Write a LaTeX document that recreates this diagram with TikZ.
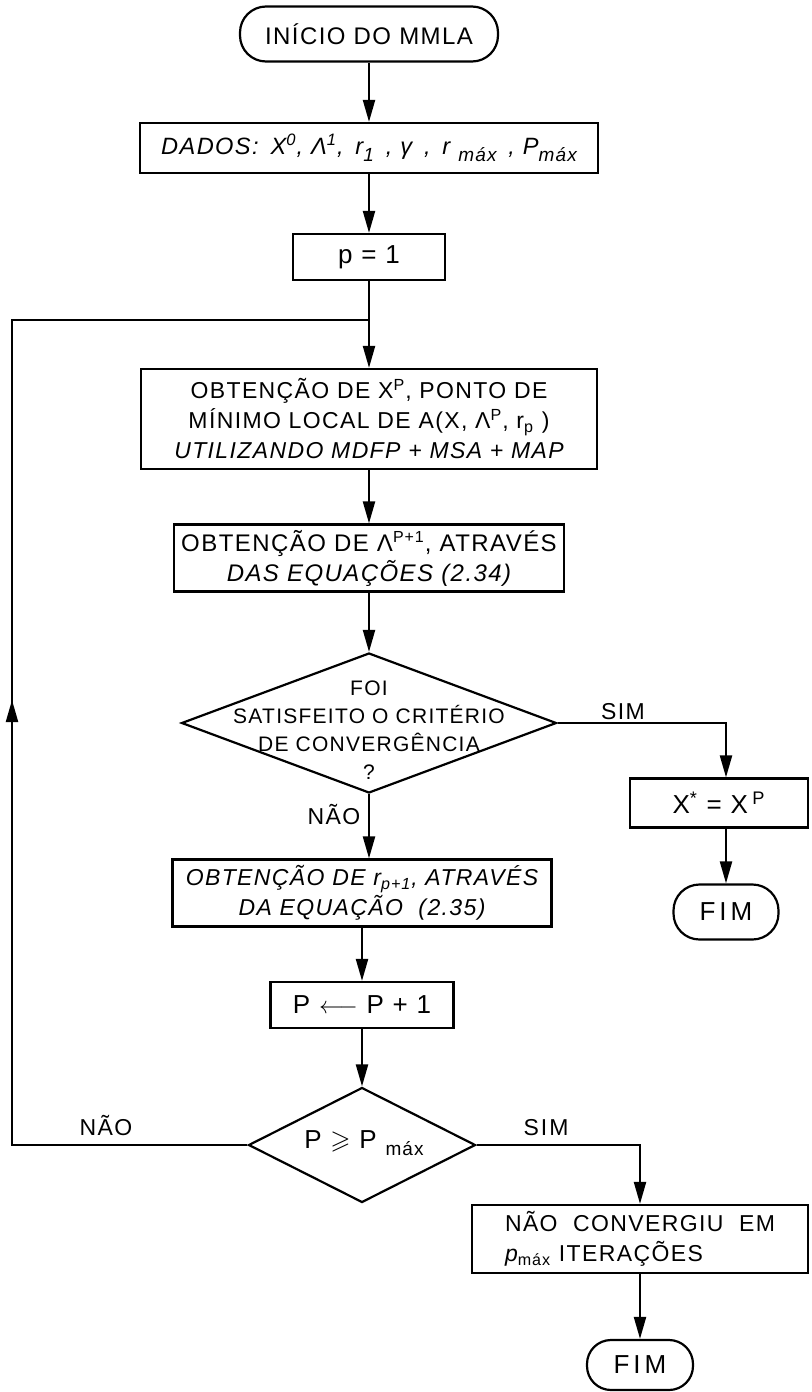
\documentclass[tikz,border=0pt]{standalone}
\usepackage{fontspec}
\usepackage{amssymb}
\setmainfont{Liberation Sans}[LetterSpace=6]
\usetikzlibrary{shapes.geometric, arrows.meta}
\newcommand{\lowsub}[1]{\raisebox{-3.5pt}{\fontsize{9.5}{9.5}\selectfont #1}}

\begin{document}
\begin{tikzpicture}[
  x=0.5pt, y=-0.5pt,
  line width=1.1pt,
  font=\fontsize{11.5}{15}\selectfont,
  box/.style={draw, align=center, inner sep=2pt},
  term/.style={draw, rounded corners=13pt, align=center, inner sep=2pt},
  decision/.style={draw, diamond, inner sep=0pt},
  big/.style={font=\fontsize{13}{15}\selectfont},
  arr/.style={-{Triangle[length=11pt, width=6pt]}},
  lbl/.style={inner sep=1pt}
]
\useasboundingbox (0,0) rectangle (811,1392);

\node[term, minimum width=129pt, minimum height=27.5pt, font=\fontsize{12}{15}\selectfont] (inicio) at (369,34) {INÍCIO DO MMLA};
\node[box, minimum width=229pt, minimum height=25pt, font=\fontsize{11.8}{15}\selectfont] (dados) at (369,148)
  {\itshape DADOS: \,X\textsuperscript{0}, Λ\textsuperscript{1}, \,r\lowsub{1} \,, γ \,, \,r \lowsub{máx} \,, P\lowsub{máx}};
\node[box, big, minimum width=76pt, minimum height=23pt] (pinit) at (369,257) {p = 1};
\node[box, minimum width=228pt, minimum height=50pt] (minimo) at (369,419)
  {OBTENÇÃO DE X\textsuperscript{P}, PONTO DE\\
   MÍNIMO LOCAL DE A(X, Λ\textsuperscript{P}, r\textsubscript{p} )\\
   {\itshape UTILIZANDO MDFP + MSA + MAP}};
\node[box, minimum width=195pt, minimum height=33.5pt, font=\fontsize{12}{15}\selectfont] (lambda) at (369,558)
  {OBTENÇÃO DE Λ\textsuperscript{P+1}, ATRAVÉS\\ {\itshape DAS EQUAÇÕES (2.34)}};
\node[decision, minimum width=187.5pt, minimum height=70pt] (conv) at (369,723) {};
\node[align=center, inner sep=0pt, font=\fontsize{10.5}{14}\selectfont] (convtxt) at (369,730)
  {FOI\\ SATISFEITO O CRITÉRIO\\ DE CONVERGÊNCIA\\ ?};
\node[box, big, minimum width=89pt, minimum height=24.5pt] (xstar) at (719,803) {X\textsuperscript{*} = X\,\textsuperscript{P}};
\node[term, big, minimum width=52.5pt, minimum height=27.5pt] (fim1) at (726,912) {F\hspace{2pt}I\hspace{2pt}M};
\node[box, minimum width=189.5pt, minimum height=33.5pt] (rbox) at (362,893)
  {\itshape OBTENÇÃO DE r\textsubscript{p+1}, ATRAVÉS\\ \itshape DA EQUAÇÃO \ (2.35)};
\node[box, big, minimum width=91.5pt, minimum height=23pt] (pbox) at (362,1005) {P $\longleftarrow$ P + 1};
\node[decision, minimum width=113.5pt, minimum height=57.5pt] (pmax) at (362,1145) {};
\node[big, inner sep=0pt] (pmaxtxt) at (364,1143) {P $\geqslant$ P \lowsub{máx}};
\node[box, minimum width=168pt, minimum height=34pt, align=left] (naoconv) at (640,1239)
  {NÃO \ CONVERGIU \ EM\\ {\itshape p}\textsubscript{máx} ITERAÇÕES};
\node[term, big, minimum width=53pt, minimum height=25pt, rounded corners=12pt] (fim2) at (640,1365) {F\hspace{2pt}I\hspace{2pt}M};

\node[lbl] (sim1) at (623,712) {SIM};
\node[lbl] (nao1) at (334,815) {NÃO};
\node[lbl] (sim2) at (546,1128) {S\hspace{1pt}I\hspace{1pt}M};
\node[lbl] (nao2) at (106,1126) {NÃO};

\coordinate (join) at (369,320);
\coordinate (loopbot) at (12,1145);
\coordinate (looptop) at (12,320);
\coordinate (loopmid) at (12,700);
\coordinate (simc) at (726,723);

\draw[arr] (inicio) -- (dados);
\draw[arr] (dados) -- (pinit);
\draw[arr] (pinit) -- (minimo);
\draw[arr] (minimo) -- (lambda);
\draw[arr] (lambda) -- (conv);
\draw[arr] (conv.east) -- (simc) -- (simc |- xstar.north);
\draw[arr] (simc |- xstar.south) -- (fim1);
\draw[arr] (conv.south) -- (conv.south |- rbox.north);
\draw[arr] (rbox) -- (pbox);
\draw[arr] (pbox) -- (pmax);
\draw[arr] (pmax.east) -| (naoconv.north);
\draw[arr] (naoconv) -- (fim2);
\draw (pmax.west) -- (loopbot) -- (looptop) -- (join);
\draw[arr] (loopbot) -- (loopmid);
\end{tikzpicture}
\end{document}
